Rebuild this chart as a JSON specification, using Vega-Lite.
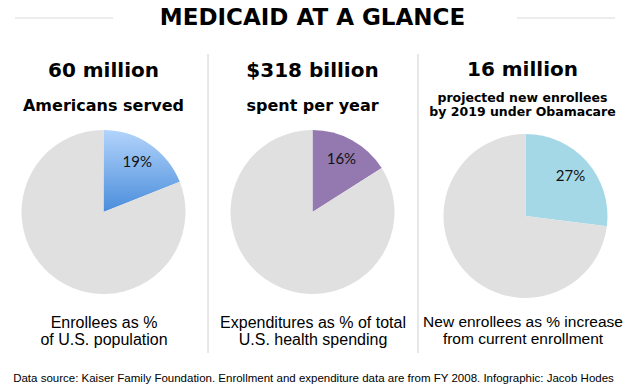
{
  "$schema": "https://vega.github.io/schema/vega-lite/v6.json",
  "background": "white",
  "padding": 0,
  "spacing": 17,
  "config": {
    "view": {"stroke": null},
    "font": "DejaVu Sans",
    "title": {"color": "black", "subtitleColor": "black"}
  },
  "title": {
    "text": "Data source: Kaiser Family Foundation. Enrollment and expenditure data are from FY 2008. Infographic: Jacob Hodes",
    "orient": "bottom",
    "anchor": "middle",
    "font": "Liberation Sans",
    "fontSize": 11.5,
    "fontWeight": "normal",
    "offset": 19
  },
  "vconcat": [
    {
      "width": 625,
      "height": 36,
      "data": {"values": [{"title": "MEDICAID AT A GLANCE"}]},
      "layer": [
        {
          "mark": {"type": "rule", "color": "#d9d9d9", "strokeWidth": 1},
          "encoding": {
            "x": {"datum": 0.024, "type": "quantitative", "scale": {"domain": [0, 1], "nice": false, "zero": false}, "axis": null},
            "x2": {"datum": 0.181}
          }
        },
        {
          "mark": {"type": "rule", "color": "#d9d9d9", "strokeWidth": 1},
          "encoding": {
            "x": {"datum": 0.827, "type": "quantitative"},
            "x2": {"datum": 0.984}
          }
        },
        {
          "mark": {"type": "text", "font": "DejaVu Sans", "fontSize": 23, "fontWeight": "bold", "color": "black"},
          "encoding": {"text": {"field": "title"}}
        }
      ]
    },
    {
      "hconcat": [
        {
          "width": 207,
          "height": 164,
          "title": {"text": "60 million", "subtitle": "Americans served", "fontSize": 20, "fontWeight": "bold", "subtitleFont": "DejaVu Sans", "subtitleFontSize": 16, "subtitleFontWeight": "bold", "subtitlePadding": 17, "offset": -60, "frame": "group", "anchor": "middle"},
          "data": {"values": [{"part": "share", "pct": 19, "label": "19%"}, {"part": "rest", "pct": 81, "label": ""}]},
          "layer": [
            {
              "mark": {"type": "arc", "radius": 82},
              "encoding": {
                "theta": {"field": "pct", "type": "quantitative", "stack": true},
                "order": {"field": "part", "sort": "descending"},
                "color": {"condition": {"test": "datum.part === 'share'", "value": {"gradient": "linear", "x1": 0, "y1": 0, "x2": 0, "y2": 1, "stops": [{"offset": 0, "color": "#b3d4fb"}, {"offset": 1, "color": "#4a8ddb"}]}}, "value": "#e0e0e0"}
              }
            },
            {
              "transform": [{"filter": "datum.part === 'share'"}],
              "mark": {"type": "text", "radius": 60, "font": "Lato", "fontSize": 15, "color": "#111111"},
              "encoding": {
                "theta": {"field": "pct", "type": "quantitative", "stack": true},
                "text": {"field": "label"}
              }
            },
            {
              "data": {"values": [{"edge": 0}]},
              "mark": {"type": "rule", "color": "#cccccc", "strokeOpacity": 0},
              "encoding": {
                "x": {"field": "edge", "type": "quantitative", "scale": {"domain": [0, 1], "nice": false}, "axis": {"title": ["Enrollees as %", "of U.S. population"], "labels": false, "ticks": false, "domain": false, "grid": false, "titleFont": "Liberation Sans", "titleFontSize": 16, "titleFontWeight": "normal", "titleColor": "black", "titlePadding": 20, "titleLineHeight": 17}},
                "y": {"value": -76},
                "y2": {"value": 223}
              }
            }
          ]
        },
        {
          "width": 209,
          "height": 164,
          "title": {"text": "$318 billion", "subtitle": "spent per year", "fontSize": 20, "fontWeight": "bold", "subtitleFont": "DejaVu Sans", "subtitleFontSize": 16, "subtitleFontWeight": "bold", "subtitlePadding": 17, "offset": -60, "frame": "group", "anchor": "middle"},
          "data": {"values": [{"part": "share", "pct": 16, "label": "16%"}, {"part": "rest", "pct": 84, "label": ""}]},
          "layer": [
            {
              "mark": {"type": "arc", "radius": 82},
              "encoding": {
                "theta": {"field": "pct", "type": "quantitative", "stack": true},
                "order": {"field": "part", "sort": "descending"},
                "color": {"condition": {"test": "datum.part === 'share'", "value": "#9479b1"}, "value": "#e0e0e0"}
              }
            },
            {
              "transform": [{"filter": "datum.part === 'share'"}],
              "mark": {"type": "text", "radius": 60, "font": "Lato", "fontSize": 15, "color": "#111111"},
              "encoding": {
                "theta": {"field": "pct", "type": "quantitative", "stack": true},
                "text": {"field": "label"}
              }
            },
            {
              "data": {"values": [{"edge": 0}]},
              "mark": {"type": "rule", "color": "#d0d0d0"},
              "encoding": {
                "x": {"field": "edge", "type": "quantitative", "scale": {"domain": [0, 1], "nice": false}, "axis": {"title": ["Expenditures as % of total", "U.S. health spending"], "labels": false, "ticks": false, "domain": false, "grid": false, "titleFont": "Liberation Sans", "titleFontSize": 16, "titleFontWeight": "normal", "titleColor": "black", "titlePadding": 20, "titleLineHeight": 17}},
                "y": {"value": -76},
                "y2": {"value": 223}
              }
            }
          ]
        },
        {
          "width": 209,
          "height": 164,
          "title": {"text": "16 million", "subtitle": ["projected new enrollees", "by 2019 under Obamacare"], "fontSize": 20, "fontWeight": "bold", "subtitleFont": "DejaVu Sans", "subtitleFontSize": 12.5, "subtitleFontWeight": "bold", "subtitleLineHeight": 14.5, "subtitlePadding": 12, "offset": -65, "frame": "group", "anchor": "middle"},
          "data": {"values": [{"part": "share", "pct": 27, "label": "27%"}, {"part": "rest", "pct": 73, "label": ""}]},
          "layer": [
            {
              "mark": {"type": "arc", "radius": 82, "yOffset": 4, "xOffset": 3},
              "encoding": {
                "theta": {"field": "pct", "type": "quantitative", "stack": true},
                "order": {"field": "part", "sort": "descending"},
                "color": {"condition": {"test": "datum.part === 'share'", "value": "#a5d8e6"}, "value": "#e0e0e0"}
              }
            },
            {
              "transform": [{"filter": "datum.part === 'share'"}],
              "mark": {"type": "text", "radius": 60, "font": "Lato", "fontSize": 15, "color": "#111111", "yOffset": 4, "xOffset": 3},
              "encoding": {
                "theta": {"field": "pct", "type": "quantitative", "stack": true},
                "text": {"field": "label"}
              }
            },
            {
              "data": {"values": [{"edge": 0}]},
              "mark": {"type": "rule", "color": "#d0d0d0"},
              "encoding": {
                "x": {"field": "edge", "type": "quantitative", "scale": {"domain": [0, 1], "nice": false}, "axis": {"title": ["New enrollees as % increase", "from current enrollment"], "labels": false, "ticks": false, "domain": false, "grid": false, "titleFont": "Liberation Sans", "titleFontSize": 15.5, "titleFontWeight": "normal", "titleColor": "black", "titlePadding": 20, "titleLineHeight": 17}},
                "y": {"value": -76},
                "y2": {"value": 223}
              }
            }
          ]
        }
      ],
      "spacing": 0
    }
  ]
}
